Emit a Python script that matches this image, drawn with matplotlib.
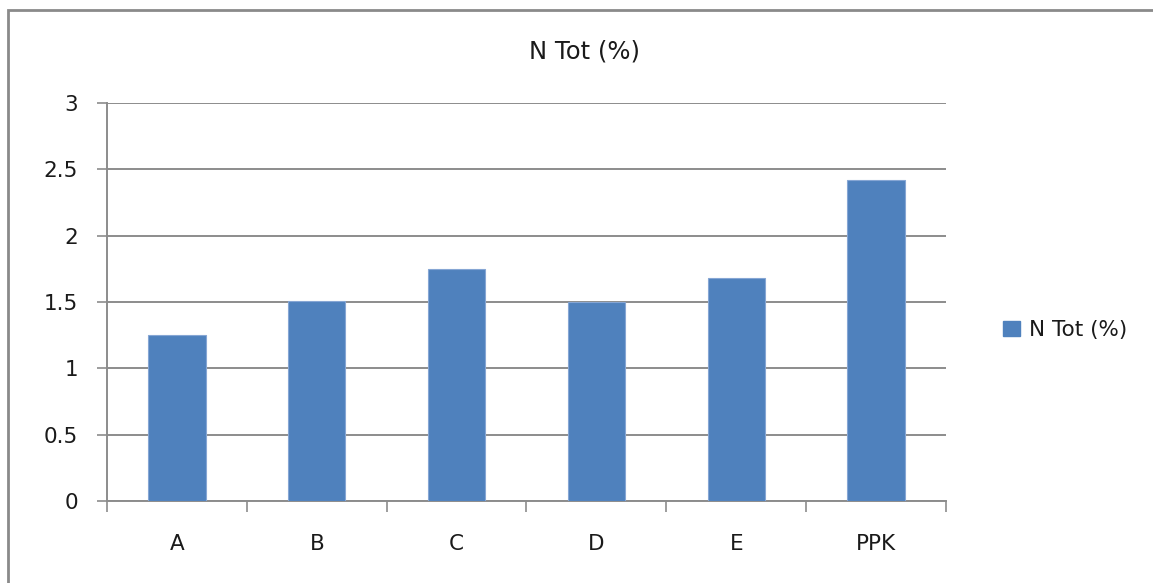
import matplotlib.pyplot as plt
from matplotlib.patches import Rectangle, Patch
import numpy as np

plt.rcParams['font.family'] = ['DejaVu Sans']

categories = ['A', 'B', 'C', 'D', 'E', 'PPK']
n_tot = [1.25, 1.51, 1.75, 1.50, 1.68, 2.42]
yticks = [0, 0.5, 1, 1.5, 2, 2.5, 3]
ytick_labels = ['0', '0.5', '1', '1.5', '2', '2.5', '3']

bar_color = '#4F81BD'
grid_color = '#8c8c8c'
text_color = '#1a1a1a'

fig = plt.figure(figsize=(11.53, 5.83), dpi=100)

# chart area border (left and top edges visible)
fig.patches.append(Rectangle((8 / 1153, -0.05), 1.2, 1 - 10 / 583 + 0.05,
                             transform=fig.transFigure, fill=False,
                             edgecolor='#8a8a8a', lw=2))

ax = fig.add_axes([107 / 1153, 1 - 501 / 583, (946 - 107) / 1153, (501 - 103) / 583])

x = np.arange(len(categories))
ax.bar(x, n_tot, width=0.41, color=bar_color, edgecolor='#86a6d4', lw=0.8,
       zorder=3, label='N Tot (%)')

ax.set_xlim(-0.5, len(categories) - 0.5)
ax.set_ylim(0, 3)
ax.set_yticks(yticks)
ax.set_yticklabels(ytick_labels)
ax.yaxis.grid(True, color=grid_color, lw=1.4, zorder=0)

# category boundaries as tick marks, labels in between
ax.set_xticks(np.arange(-0.5, len(categories)), minor=False)
ax.set_xticklabels([])
ax.set_xticks(x, minor=True)
ax.set_xticklabels(categories, minor=True)
ax.tick_params(axis='x', which='major', length=8, color=grid_color, width=1.2)
ax.tick_params(axis='x', which='minor', length=0, pad=24, labelsize=15.5,
               labelcolor=text_color)
ax.tick_params(axis='y', length=7, color=grid_color, width=1.2, pad=14,
               labelsize=15.5, labelcolor=text_color)

for s in ['top', 'right']:
    ax.spines[s].set_visible(False)
for s in ['left', 'bottom']:
    ax.spines[s].set_color(grid_color)
    ax.spines[s].set_linewidth(1.4)

fig.text(584 / 1153, 1 - 52 / 583, 'N Tot (%)', ha='center', va='center',
         fontsize=17.5, color=text_color)

fig.legend(handles=[Patch(color=bar_color, label='N Tot (%)')],
           loc='center left', bbox_to_anchor=(984 / 1153, 1 - 330 / 583),
           frameon=False, fontsize=15.5, handlelength=0.75, handleheight=0.75,
           handletextpad=0.45, labelcolor=text_color)

fig.savefig('out.png', dpi=100)
